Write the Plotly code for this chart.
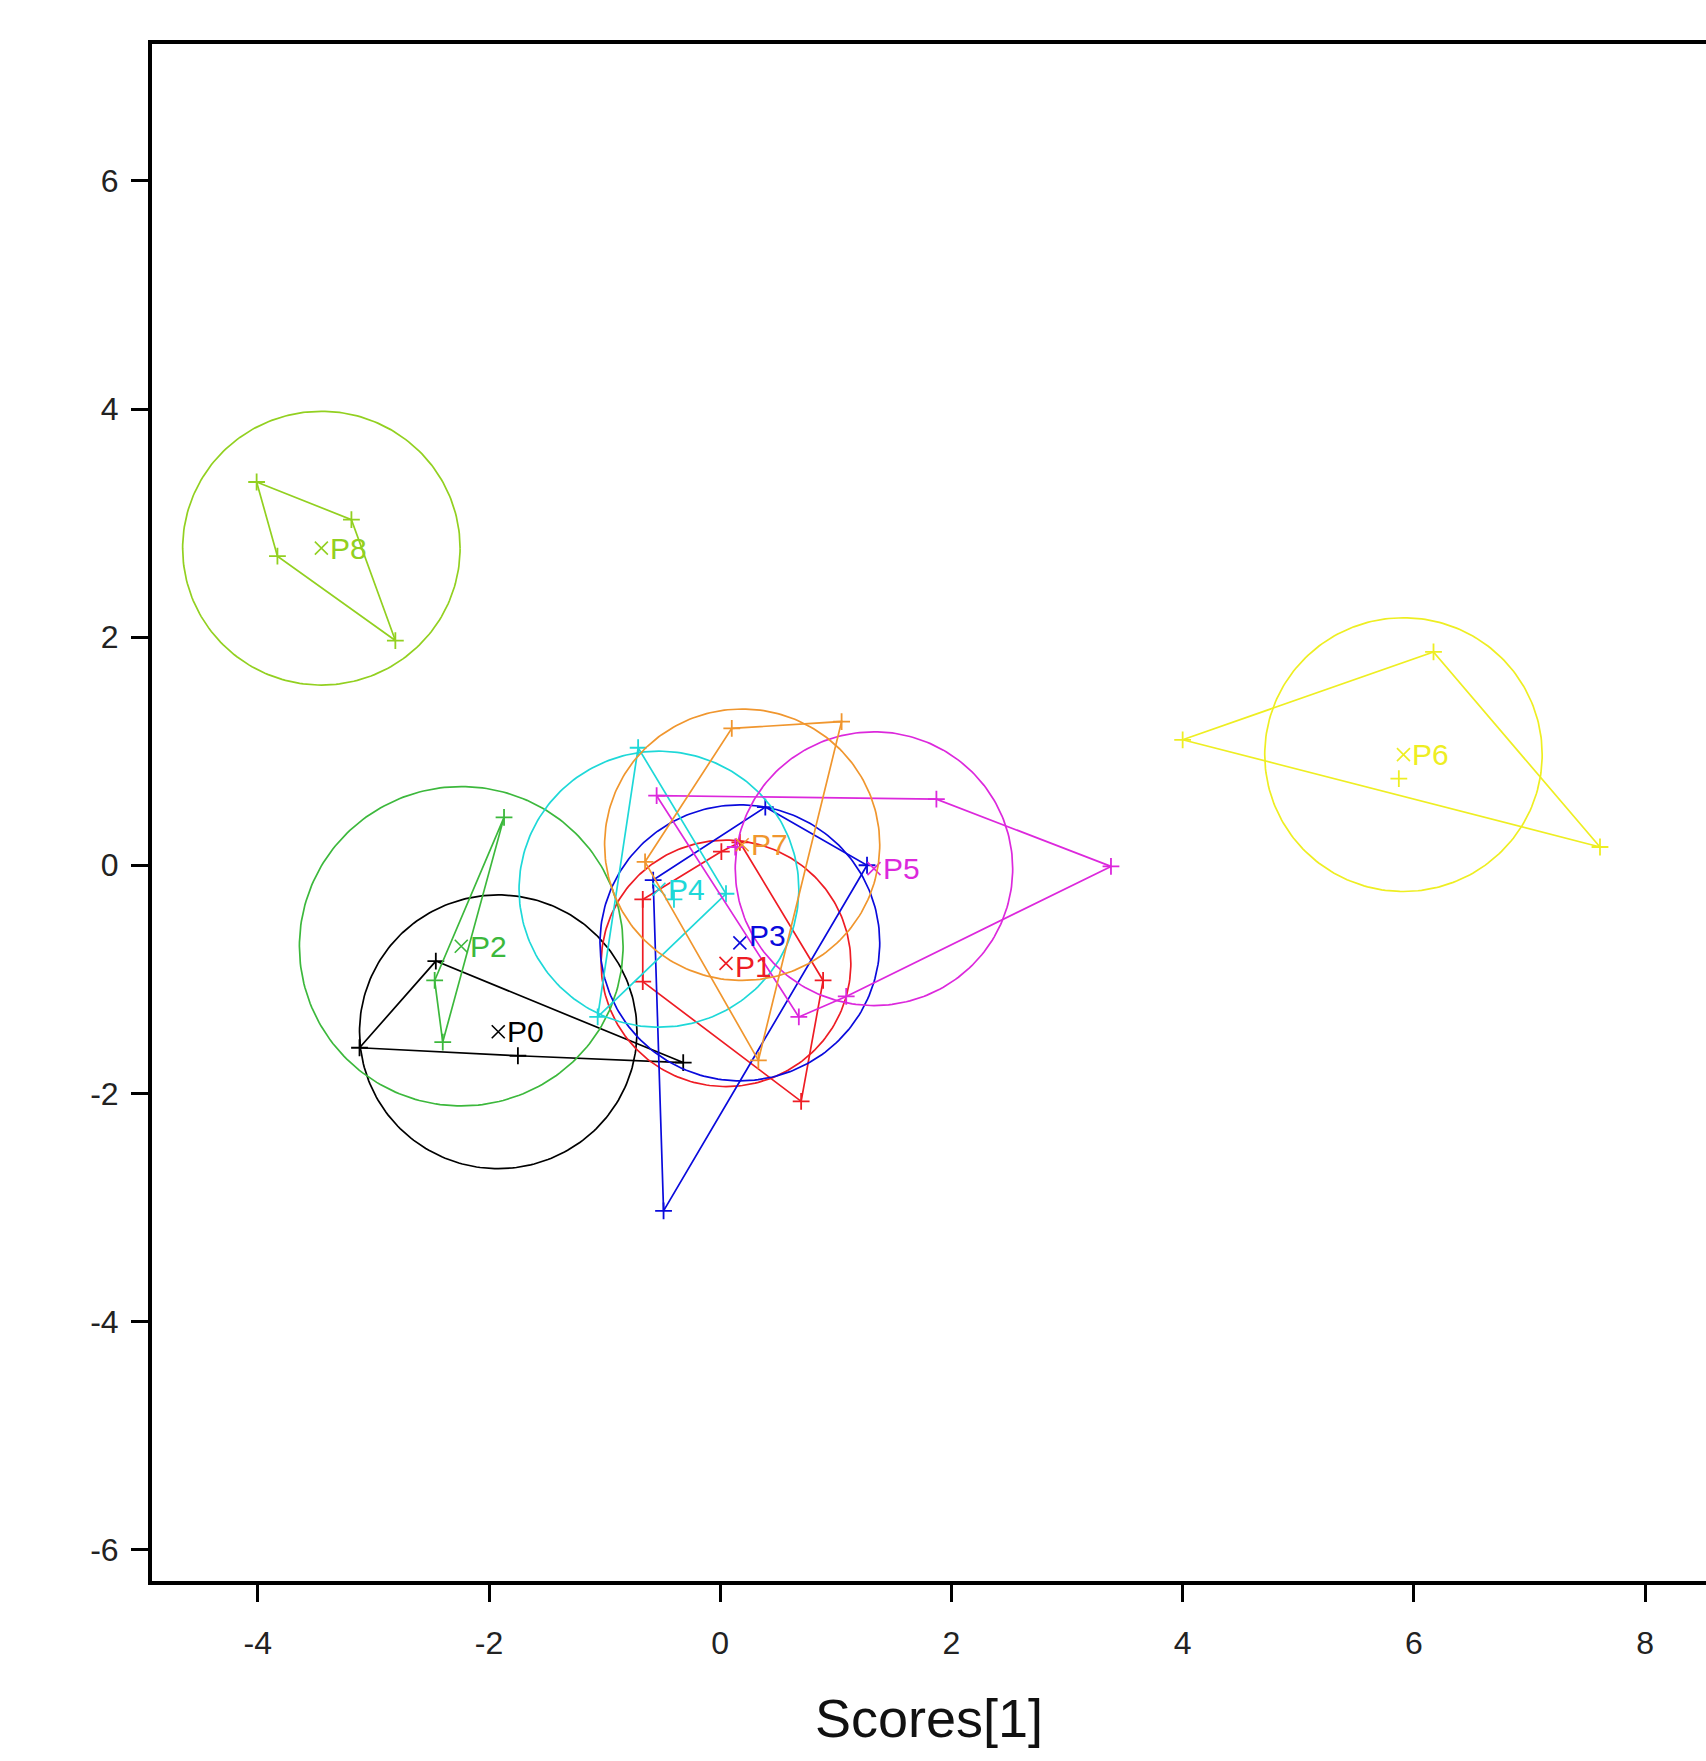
import numpy as np
import plotly.graph_objects as go

# ---------------- data ----------------
groups = ["P0", "P1", "P2", "P3", "P4", "P5", "P6", "P7", "P8"]
colors = ["#000000", "#ee1c24", "#3cb83c", "#0a0adc", "#1ed8d8",
          "#dc28dc", "#eeee22", "#f0962e", "#92d020"]

pts_x = {
    "P0": [-2.46, -0.32, -1.75, -3.12],
    "P1": [-0.67, -0.67, 0.70, 0.89, 0.01, 0.17],
    "P2": [-1.87, -2.47, -2.40],
    "P3": [-0.58, -0.49, 1.27, 0.39],
    "P4": [-0.71, -1.06, 0.05, -0.40],
    "P5": [-0.55, 1.87, 3.38, 1.09, 0.68, 0.13],
    "P6": [4.00, 6.17, 7.61, 5.87],
    "P7": [0.10, 1.05, 0.33, -0.65],
    "P8": [-4.01, -3.19, -2.81, -3.83],
}
pts_y = {
    "P0": [-0.84, -1.73, -1.67, -1.60],
    "P1": [-0.30, -1.02, -2.07, -1.01, 0.12, 0.20],
    "P2": [0.42, -1.01, -1.55],
    "P3": [-0.13, -3.03, 0.00, 0.51],
    "P4": [1.03, -1.33, -0.25, -0.30],
    "P5": [0.61, 0.58, -0.01, -1.15, -1.33, 0.16],
    "P6": [1.10, 1.87, 0.16, 0.76],
    "P7": [1.20, 1.26, -1.71, 0.03],
    "P8": [3.36, 3.03, 1.97, 2.71],
}
center_x = [-1.92, 0.05, -2.24, 0.17, -0.53, 1.33, 5.91, 0.19, -3.45]
center_y = [-1.46, -0.86, -0.71, -0.68, -0.21, -0.03, 0.97, 0.18, 2.78]
radius = [1.20, 1.08, 1.40, 1.21, 1.21, 1.20, 1.20, 1.19, 1.20]

x_ticks = [-4, -2, 0, 2, 4, 6, 8]
x_tick_labels = ["-4", "-2", "0", "2", "4", "6", "8"]
y_ticks = [-6, -4, -2, 0, 2, 4, 6]
y_tick_labels = ["-6", "-4", "-2", "0", "2", "4", "6"]
x_title = "Scores[1]"

# small vertical nudges (px) of the group labels, as in the reference
label_yshift = [0, -3, 0, 7, 0, 0, 0, 0, 0]


def convex_hull(xs, ys):
    p = sorted(set(zip(xs, ys)))
    if len(p) < 3:
        return p

    def cross(o, a, b):
        return (a[0] - o[0]) * (b[1] - o[1]) - (a[1] - o[1]) * (b[0] - o[0])

    lower, upper = [], []
    for q in p:
        while len(lower) >= 2 and cross(lower[-2], lower[-1], q) <= 0:
            lower.pop()
        lower.append(q)
    for q in reversed(p):
        while len(upper) >= 2 and cross(upper[-2], upper[-1], q) <= 0:
            upper.pop()
        upper.append(q)
    return lower[:-1] + upper[:-1]


FONT = "Liberation Sans, Arial, Helvetica, sans-serif"
fig = go.Figure()
theta = np.linspace(0, 2 * np.pi, 241)

for i, g in enumerate(groups):
    c = colors[i]
    # circle
    fig.add_trace(go.Scatter(
        x=center_x[i] + radius[i] * np.cos(theta),
        y=center_y[i] + radius[i] * np.sin(theta),
        mode="lines", line=dict(color=c, width=1.7),
        hoverinfo="skip", showlegend=False))
    # hull polygon
    hull = convex_hull(pts_x[g], pts_y[g])
    hx = [h[0] for h in hull] + [hull[0][0]]
    hy = [h[1] for h in hull] + [hull[0][1]]
    fig.add_trace(go.Scatter(
        x=hx, y=hy, mode="lines", line=dict(color=c, width=1.7),
        hoverinfo="skip", showlegend=False))
    # points
    fig.add_trace(go.Scatter(
        x=pts_x[g], y=pts_y[g], mode="markers",
        marker=dict(symbol="cross-thin-open", size=12, color=c,
                    line=dict(color=c, width=1.8)),
        name=g, showlegend=False))
    # centroid marker
    fig.add_trace(go.Scatter(
        x=[center_x[i]], y=[center_y[i]], mode="markers",
        marker=dict(symbol="x-thin-open", size=13, color=c,
                    line=dict(color=c, width=1.6)),
        hoverinfo="skip", showlegend=False))
    fig.add_annotation(
        x=center_x[i], y=center_y[i], xref="x", yref="y",
        text=g, showarrow=False, xanchor="left", yanchor="middle",
        xshift=7, yshift=label_yshift[i],
        font=dict(family=FONT, size=30, color=c))

axis_common = dict(
    showgrid=False, zeroline=False, showline=True, linecolor="black",
    linewidth=4, ticks="outside", ticklen=17, tickwidth=3,
    tickcolor="black", tickfont=dict(family=FONT, size=32, color="#222"),
)

fig.update_xaxes(range=[-4.915, 8.527], tickvals=x_ticks,
                 ticktext=x_tick_labels, mirror=True,
                 ticklabelstandoff=14,
                 title=dict(text=x_title, standoff=40,
                            font=dict(family=FONT, size=54, color="#111")),
                 **axis_common)
fig.update_yaxes(range=[-6.275, 7.20], tickvals=y_ticks,
                 ticktext=y_tick_labels, mirror=False,
                 ticklabelstandoff=6, **axis_common)

fig.update_layout(
    width=1706, height=1761,
    margin=dict(l=152, r=0, t=44, b=180, autoexpand=False),
    paper_bgcolor="white", plot_bgcolor="white",
    showlegend=False,
)

fig.write_html("out.html",
               config={"displayModeBar": False},
               post_script="document.body.style.margin='0px';"
                           "document.body.style.overflow='hidden';")
